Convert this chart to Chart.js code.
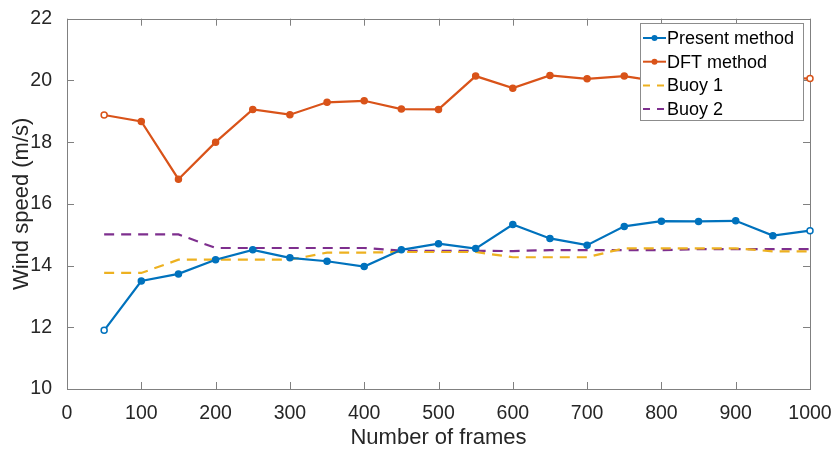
<!DOCTYPE html>
<html>
<head>
<meta charset="utf-8">
<script src="https://cdn.jsdelivr.net/npm/chart.js@4.4.1/dist/chart.umd.min.js"></script>
<style>
html,body{margin:0;padding:0;background:#fff;}
#wrap{position:relative;width:837px;height:451px;}
</style>
</head>
<body>
<div id="wrap"><canvas id="c" width="837" height="451"></canvas></div>
<script>
const frames = [50,100,150,200,250,300,350,400,450,500,550,600,650,700,750,800,850,900,950,1000];
const presentMethod = [11.9,13.5,13.73,14.19,14.51,14.25,14.14,13.97,14.51,14.71,14.55,15.33,14.88,14.66,15.27,15.44,15.43,15.45,14.97,15.13];
const dftMethod = [18.88,18.67,16.8,18.0,19.06,18.89,19.29,19.34,19.07,19.06,20.14,19.75,20.16,20.05,20.14,19.95,20.1,20.05,20.1,20.06];
const buoy1 = [13.76,13.76,14.19,14.19,14.19,14.19,14.42,14.42,14.44,14.44,14.44,14.27,14.27,14.27,14.56,14.56,14.56,14.56,14.46,14.46];
const buoy2 = [15.01,15.01,15.01,14.57,14.57,14.57,14.57,14.57,14.48,14.48,14.48,14.47,14.5,14.5,14.5,14.5,14.53,14.53,14.53,14.53];
const seriesNames = ['Present method','DFT method','Buoy 1','Buoy 2'];
const xTicks = [0,100,200,300,400,500,600,700,800,900,1000];
const yTicks = [10,12,14,16,18,20,22];

const colors = ['#0072BD','#D95319','#EDB120','#7E2F8E'];
const pts = arr => frames.map((f,i)=>({x:f,y:arr[i]}));
const hollow = c => frames.map((f,i)=> (i===0||i===frames.length-1) ? '#ffffff' : c);

const FONT = '"Liberation Sans", Arial, Helvetica, sans-serif';
const AXIS = '#808080';
const TXT = '#262626';

const boxPlugin = {
  id:'box',
  beforeDatasetsDraw(chart){
    const {ctx, chartArea:a, scales:{x,y}} = chart;
    ctx.save();
    ctx.strokeStyle = AXIS; ctx.lineWidth = 1;
    ctx.strokeRect(Math.round(a.left)+0.5, Math.round(a.top)+0.5, Math.round(a.right-a.left), Math.round(a.bottom-a.top));
    const L = 7;
    ctx.beginPath();
    xTicks.forEach(v=>{ const px=Math.round(x.getPixelForValue(v))+0.5;
      ctx.moveTo(px,a.bottom); ctx.lineTo(px,a.bottom-L);
      ctx.moveTo(px,a.top); ctx.lineTo(px,a.top+L); });
    yTicks.forEach(v=>{ const py=Math.round(y.getPixelForValue(v))+0.5;
      ctx.moveTo(a.left,py); ctx.lineTo(a.left+L,py);
      ctx.moveTo(a.right,py); ctx.lineTo(a.right-L,py); });
    ctx.stroke();
    ctx.restore();
  },
  afterDatasetsDraw(chart){
    const {ctx} = chart;
    ctx.save();
    // legend
    const lx=640, ly=23, lw=163, lh=97;
    ctx.fillStyle='#fff'; ctx.fillRect(lx,ly,lw,lh);
    ctx.strokeStyle='#8c8c8c'; ctx.lineWidth=1; ctx.strokeRect(lx+0.5,ly+0.5,lw,lh);
    ctx.font = '18px '+FONT; ctx.textBaseline='middle'; ctx.textAlign='left';
    seriesNames.forEach((n,i)=>{
      const yy = ly+15+i*23.7;
      ctx.strokeStyle=colors[i]; ctx.lineWidth=2;
      if(i>=2){ ctx.setLineDash([7,7]); } else ctx.setLineDash([]);
      ctx.beginPath(); ctx.moveTo(643,yy); ctx.lineTo(666,yy); ctx.stroke();
      ctx.setLineDash([]);
      if(i<2){ ctx.fillStyle=colors[i]; ctx.beginPath(); ctx.arc(654.5,yy,3,0,Math.PI*2); ctx.fill(); }
      ctx.fillStyle='#000'; ctx.fillText(n,667,yy+1);
    });
    ctx.restore();
  }
};

new Chart(document.getElementById('c'),{
  type:'line',
  data:{datasets:[
    {label:seriesNames[0],data:pts(presentMethod),borderColor:colors[0],backgroundColor:colors[0],pointBackgroundColor:hollow(colors[0]),pointBorderColor:colors[0],pointRadius:3,pointBorderWidth:1.5,borderWidth:2.2,clip:6},
    {label:seriesNames[1],data:pts(dftMethod),borderColor:colors[1],backgroundColor:colors[1],pointBackgroundColor:hollow(colors[1]),pointBorderColor:colors[1],pointRadius:3,pointBorderWidth:1.5,borderWidth:2.2,clip:6},
    {label:seriesNames[2],data:pts(buoy1),borderColor:colors[2],pointRadius:0,borderWidth:2.2,borderDash:[10,7]},
    {label:seriesNames[3],data:pts(buoy2),borderColor:colors[3],pointRadius:0,borderWidth:2.2,borderDash:[10,7]}
  ]},
  options:{
    responsive:false, animation:false, devicePixelRatio:1,
    layout:{padding:{left:0,right:27,top:15,bottom:0}},
    plugins:{legend:{display:false},tooltip:{enabled:false}},
    scales:{
      x:{type:'linear',min:0,max:1000,
        afterBuildTicks(s){ s.ticks = xTicks.map(v=>({value:v})); },
        afterFit(s){ s.height=62; s.paddingRight=0; s.paddingLeft=0; },
        grid:{display:false},border:{display:false},
        ticks:{color:TXT,font:{family:FONT,size:19.5},padding:5,maxRotation:0,autoSkip:false,callback:v=>String(v)},
        title:{display:true,text:'Number of frames',color:TXT,font:{family:FONT,size:22},padding:{top:0,bottom:0}}},
      y:{min:10,max:22,
        afterBuildTicks(s){ s.ticks = yTicks.map(v=>({value:v})); },
        afterFit(s){ s.width=67; },
        grid:{display:false},border:{display:false},
        ticks:{color:TXT,font:{family:FONT,size:19.5},padding:7,callback:v=>String(v)},
        title:{display:true,text:'Wind speed (m/s)',color:TXT,font:{family:FONT,size:22},padding:{top:9,bottom:0}}}
    }
  },
  plugins:[boxPlugin]
});
</script>
</body>
</html>
